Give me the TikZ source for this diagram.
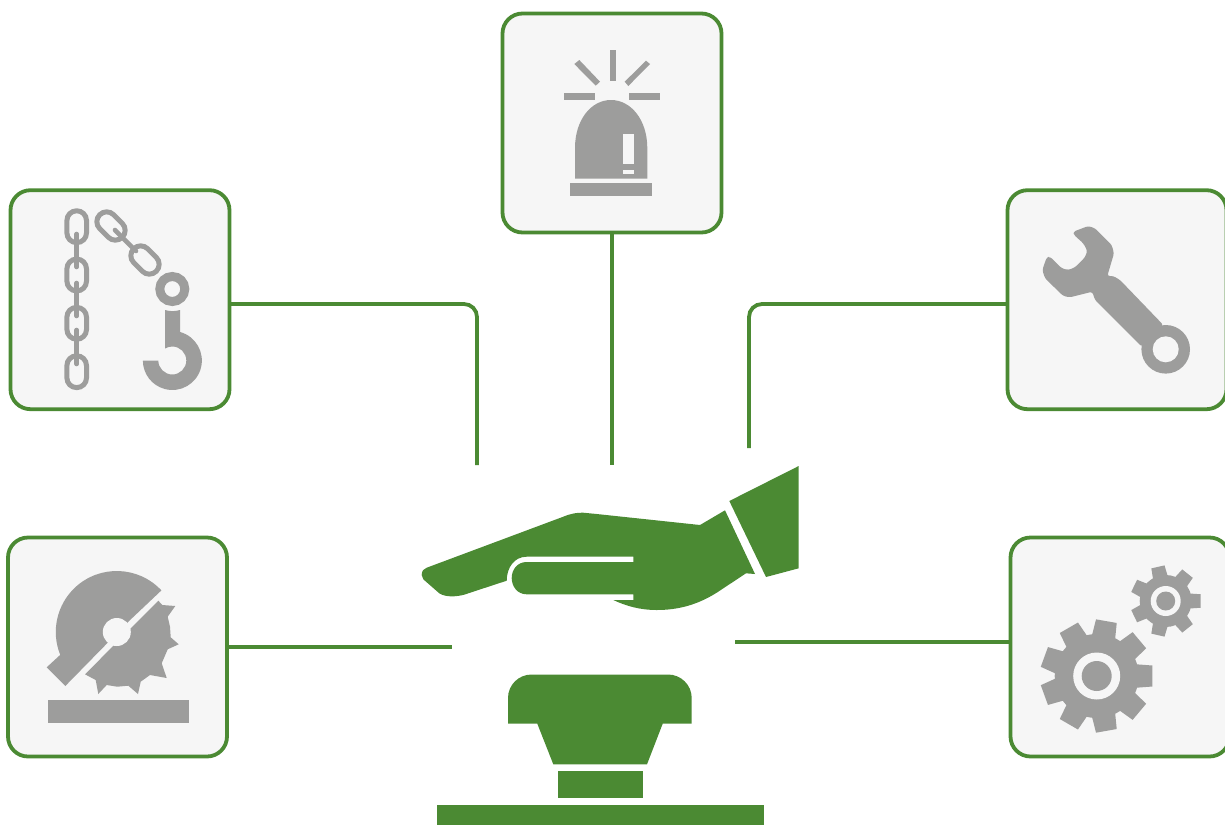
\documentclass[tikz,border=0pt]{standalone}
\definecolor{leaf}{HTML}{4B8A33}
\definecolor{ash}{HTML}{9D9D9C}
\definecolor{pale}{HTML}{F6F6F6}
\tikzset{
  x=1pt,y=-1pt,
  panel/.style={draw=leaf,line width=3.8pt,fill=pale,rounded corners=20pt,minimum width=219pt,minimum height=219pt,inner sep=0pt,outer sep=0pt},
  conn/.style={draw=leaf,line width=3.8pt},
  icon/.style={fill=ash,draw=none},
  cut/.style={fill=pale,draw=none},
  solid green/.style={fill=leaf,draw=none},
  linkring/.style={draw=ash,line width=5pt,fill=none},
  linkbar/.style={draw=ash,line width=4.6pt,line cap=round}
}
\newcommand{\chainlink}[3]{\draw[linkring,shift={(#1,#2)},rotate=#3,rounded corners=9.7pt] (-9.8,-15.9) rectangle (9.8,15.9);}
\newcommand{\cog}[8]{%
  \fill[icon] (#1,#2) circle[radius=#3 pt];
  \foreach \n in {1,...,#8}{
    \pgfmathsetmacro{\a}{(\n-1)*360/#8}
    \fill[icon,shift={(#1,#2)},rotate=\a] ({#3-3},{-#5*0.56}) -- ({#4},{-#5*0.5}) -- ({#4},{#5*0.5}) -- ({#3-3},{#5*0.56}) -- cycle;
  }
  \fill[cut] (#1,#2) circle[radius=#6 pt];
  \fill[icon] (#1,#2) circle[radius=#7 pt];
}
\begin{document}
\begin{tikzpicture}
\useasboundingbox (0,0) rectangle (1225,825);
\clip (0,0) rectangle (1225,825);
% panels
\node[panel] (siren) at (612,123) {};
\node[panel] (chain) at (120,299.7) {};
\node[panel] (wrench) at (1117,299.7) {};
\node[panel] (saw) at (117.5,647) {};
\node[panel] (gears) at (1120,647) {};
% connector ends
\coordinate (ca) at (477,304);
\coordinate (cb) at (477,465);
\coordinate (cc) at (612,465);
\coordinate (cd) at (749,304);
\coordinate (ce) at (749,448);
\coordinate (cf) at (451.7,646.7);
\coordinate (cg) at (734.7,642.3);
\draw[conn,rounded corners=13pt] (chain.east |- ca) -- (ca) -- (cb);
\draw[conn] (siren.south) -- (cc);
\draw[conn,rounded corners=13pt] (wrench.west |- cd) -- (cd) -- (ce);
\draw[conn] (saw.east |- cf) -- (cf);
\draw[conn] (gears.west |- cg) -- (cg);
% siren
\fill[icon] (610,50) rectangle (616,80.7);
\fill[icon] (574.3,64) -- (579.3,60) -- (600,81.7) -- (595.7,85.7) -- cycle;
\fill[icon] (650,64) -- (646,60.7) -- (624.7,81.7) -- (628.3,86) -- cycle;
\fill[icon] (564,93) rectangle (595,100);
\fill[icon] (629,93) rectangle (660,100);
\fill[icon] (575,178.7) -- (575,148) .. controls (575,120) and (591,100) .. (611,100) .. controls (631,100) and (647.3,120) .. (647.3,148) -- (647.3,178.7) -- cycle;
\fill[cut] (623.3,134.3) rectangle (634,164);
\fill[cut] (623.3,170) rectangle (634,173.7);
\fill[icon] (570,183) rectangle (652,196);
% chain
\chainlink{76.7}{226.7}{0}
\chainlink{76.7}{275}{0}
\chainlink{76.7}{323.3}{0}
\chainlink{76.7}{371.7}{0}
\chainlink{111}{226}{45}
\chainlink{145}{260}{45}
\draw[linkbar] (76.7,234) -- (76.7,267);
\draw[linkbar] (76.7,283) -- (76.7,316);
\draw[linkbar] (76.7,330) -- (76.7,364);
\draw[linkbar] (115,230) -- (136,251);
\draw[ash,line width=9pt] (172.3,289) circle[radius=12.5pt];
\fill[icon] (165,310) .. controls (170,311.5) and (175,311.5) .. (180,310) -- (180,332)
  arc[start angle=75,end angle=-180,radius=29.5pt] -- (158.3,360.5)
  arc[start angle=180,end angle=481,radius=14pt] -- cycle;
% saw
\fill[icon] (161.4,590.4) arc[start angle=43,end angle=202,radius=61pt] -- (46.7,667.3) -- (65.3,686) -- (128.3,621.7) -- cycle;
\fill[icon] (85,674.3) -- (158.3,600.7) -- (162.3,605) -- (175.3,606) -- (167.7,616.7) -- (170,626.7) -- (170.7,637.3) -- (178.7,644.3) -- (167.7,649.3) -- (161.7,663.3) -- (166.7,678) -- (150,675) -- (140.7,681.7) -- (138,694) -- (128.3,685.7) -- (117.3,686.7) -- (106.7,685) -- (98.3,694) -- (95.7,680) -- cycle;
\fill[cut] (116.8,632) circle[radius=14pt];
\fill[icon] (48,700) rectangle (189,722.7);
% wrench
\fill[icon,rounded corners=2.5pt] (1073.3,231.7) -- (1088.3,226) -- (1095,228.3) -- (1111.7,245) -- (1114,253.3) -- (1107.3,276) -- (1113.3,276) -- (1120,280) -- (1163.3,325) -- (1141.7,346.7) -- (1095,300) -- (1092.3,291.7) -- (1070,297.3) -- (1063.3,296) -- (1045,278.3) -- (1042.3,270) -- (1046.7,257.3) -- (1050,256.7) -- (1061.7,268.3) -- (1068.3,270) -- (1075,267.3) -- (1085,257.3) -- (1087.3,250.7) -- (1083.3,243.3) -- (1074,235) -- cycle;
\fill[icon] (1165.7,349.3) circle[radius=24.3pt];
\fill[cut] (1165.7,349.3) circle[radius=13pt];
% gears
\cog{1096.7}{676}{42}{55.7}{21}{23.5}{15}{9}
\cog{1165.7}{601}{26}{35}{13.5}{15}{9.5}{7}
% hand
\fill[solid green] (798.7,466) -- (798.7,568.3) -- (766,577) -- (729.3,501) -- cycle;
\fill[solid green] (421.7,575) .. controls (421.7,570.5) and (424,568.7) .. (426.7,567.7) -- (563.3,516.7) .. controls (571,513.5) and (577,512.5) .. (583.3,512.7) -- (596.7,514) -- (700,525) -- (725,510.3) -- (755,574) -- (746,573.3) -- (716.7,592.7) .. controls (697,605) and (678,610) .. (656.7,610) .. controls (640,610) and (626,606) .. (613.3,600) -- (633.3,600) -- (633.3,594.3) -- (526.7,594.3) .. controls (517,594.3) and (511.7,586) .. (511.7,578) .. controls (511.7,570) and (517,562) .. (526.7,562) -- (633.3,562) -- (633.3,556.7) -- (526.7,556.7) .. controls (514,556.7) and (506.7,568) .. (506.7,580.7) -- (468.3,593.3) .. controls (462,596) and (447,598.5) .. (439.3,593.3) -- (423.3,579.3) -- cycle;
% button
\fill[solid green] (508,723.7) -- (508,698) .. controls (508,685) and (518.5,674.5) .. (531.7,674.5) -- (668,674.5) .. controls (681,674.5) and (691.7,685) .. (691.7,698) -- (691.7,723.7) -- (662.7,723.7) -- (647,764.3) -- (553.3,764.3) -- (537.3,723.7) -- cycle;
\fill[solid green] (558,771) rectangle (643,797.7);
\fill[solid green] (437,805) rectangle (764,825);
\end{tikzpicture}
\end{document}
